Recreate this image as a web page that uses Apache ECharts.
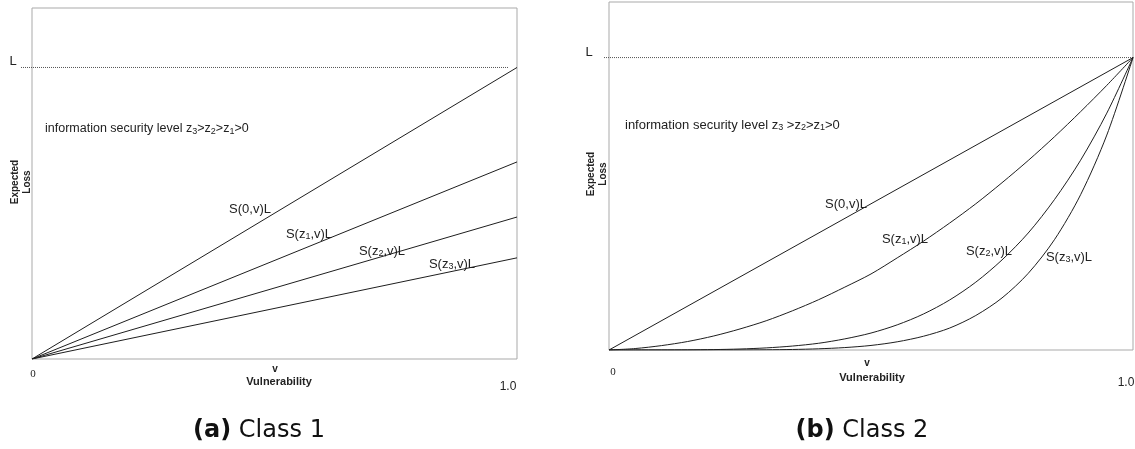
<!DOCTYPE html>
<html><head><meta charset="utf-8">
<script src="https://cdn.jsdelivr.net/npm/echarts@6/dist/echarts.min.js"></script>
<style>html,body{margin:0;padding:0;background:#fff}#c{width:1135px;height:449px}</style>
</head><body><div id="c"></div>
<script>
// ---- Class 1 (linear) : vulnerability v and expected loss as fraction of L
const class1V = [0, 1.0];
const class1_S0 = [0, 1.0];
const class1_Sz1 = [0, 0.676];
const class1_Sz2 = [0, 0.487];
const class1_Sz3 = [0, 0.347];
const class1_Lline_v = [-0.0226, 0.983];

// ---- Class 2 (convex)
const class2V_S0 = [0, 1.0];
const class2_S0 = [0, 1.0];
const class2V = [0, 0.05, 0.1, 0.15, 0.2, 0.25, 0.3, 0.35, 0.4, 0.45, 0.5, 0.55, 0.6, 0.65, 0.7, 0.75, 0.8, 0.85, 0.9, 0.95, 1.0];
const class2_Sz1 = [0, 0.005, 0.015, 0.029, 0.048, 0.072, 0.10, 0.134, 0.172, 0.215, 0.26, 0.315, 0.372, 0.434, 0.50, 0.572, 0.648, 0.729, 0.815, 0.905, 1.0];
const class2_Sz2 = [0, 0, 0.0001, 0.0004, 0.0014, 0.0034, 0.0072, 0.0135, 0.023, 0.038, 0.058, 0.086, 0.123, 0.171, 0.232, 0.308, 0.40, 0.514, 0.649, 0.81, 1.0];
const class2_Sz3 = [0, 0, 0, 0, 0.0001, 0.0002, 0.0007, 0.0018, 0.0041, 0.0083, 0.0156, 0.028, 0.047, 0.075, 0.118, 0.178, 0.262, 0.377, 0.531, 0.735, 1.0];
const class2_Lline_v = [-0.0095, 1.0];
const L_level = 1.0;

const xTickLabels = ['0', '1.0'];
const captions = [['(a)', 'Class 1'], ['(b)', 'Class 2']];

function pairs(xs, ys) { return xs.map((x, i) => [x, ys[i]]); }

const LINE = '#1e1e1e';
const SANS = '"Liberation Sans", Arial, sans-serif';

function curve(idx, xs, ys, smooth) {
  return {
    type: 'line', xAxisIndex: idx, yAxisIndex: idx, data: pairs(xs, ys),
    symbol: 'none', smooth: smooth ? 0.3 : false,
    lineStyle: { color: LINE, width: 1 }, silent: true, animation: false
  };
}
function lLine(idx, vs) {
  return {
    type: 'line', xAxisIndex: idx, yAxisIndex: idx,
    data: vs.map(v => [v, L_level]), symbol: 'none',
    lineStyle: { color: '#555', width: 1, type: [1, 1] }, silent: true, animation: false
  };
}

function rtext(x, y, text, size, align) {
  return {
    type: 'text', x: x, y: y, silent: true,
    style: {
      text: text, fill: '#222', align: align || 'center', verticalAlign: 'middle',
      rich: {
        t: { fontSize: size, fontFamily: SANS, fill: '#222' },
        s: { fontSize: Math.round(size * 0.68), fontFamily: SANS, fill: '#222', padding: [6, 0, 0, 0] }
      }
    }
  };
}
function ptext(x, y, text, font, align) {
  return { type: 'text', x: x, y: y, silent: true,
    style: { text: text, font: font, fill: '#222', align: align || 'center', verticalAlign: 'middle' } };
}
function ylab(x, y) {
  return { type: 'text', x: x, y: y, rotation: Math.PI / 2, silent: true,
    style: { text: 'Expected\nLoss', font: 'bold 10px ' + SANS, fill: '#222', align: 'center', verticalAlign: 'middle', lineHeight: 12 } };
}
function caption(x, y, c) {
  return { type: 'text', x: x, y: y, silent: true,
    style: { text: '{b|' + c[0] + '}{n| ' + c[1] + '}', align: 'center', verticalAlign: 'middle',
      rich: { b: { font: 'bold 24px "DejaVu Sans"', fill: '#111' }, n: { font: '24px "DejaVu Sans"', fill: '#111' } } } };
}

const chart = echarts.init(document.getElementById('c'), null, { renderer: 'canvas' });
const option = {
  backgroundColor: '#fff',
  animation: false,
  grid: [
    { left: 32, top: 8, width: 485, height: 351, show: true, borderColor: '#a9a9a9', borderWidth: 1, backgroundColor: 'transparent' },
    { left: 609, top: 2, width: 524, height: 348, show: true, borderColor: '#a9a9a9', borderWidth: 1, backgroundColor: 'transparent' },
    // helper grids carrying the dotted L reference lines (they reach left of the boxes)
    { left: 21, top: 8, width: 487, height: 351, show: false },
    { left: 604, top: 2, width: 529, height: 348, show: false }
  ],
  xAxis: [
    { type: 'value', gridIndex: 0, min: 0, max: 1, show: false },
    { type: 'value', gridIndex: 1, min: 0, max: 1, show: false },
    { type: 'value', gridIndex: 2, min: class1_Lline_v[0], max: class1_Lline_v[1], show: false },
    { type: 'value', gridIndex: 3, min: class2_Lline_v[0], max: class2_Lline_v[1], show: false }
  ],
  yAxis: [
    { type: 'value', gridIndex: 0, min: 0, max: 1.204, show: false },
    { type: 'value', gridIndex: 1, min: 0, max: 1.19, show: false },
    { type: 'value', gridIndex: 2, min: 0, max: 1.204, show: false },
    { type: 'value', gridIndex: 3, min: 0, max: 1.19, show: false }
  ],
  series: [
    lLine(2, class1_Lline_v),
    curve(0, class1V, class1_S0), curve(0, class1V, class1_Sz1),
    curve(0, class1V, class1_Sz2), curve(0, class1V, class1_Sz3),
    lLine(3, class2_Lline_v),
    curve(1, class2V_S0, class2_S0), curve(1, class2V, class2_Sz1, true),
    curve(1, class2V, class2_Sz2, true), curve(1, class2V, class2_Sz3, true)
  ],
  graphic: [
    // ---- panel (a)
    ptext(13, 61, 'L', '13px ' + SANS),
    rtext(45, 129, '{t|information security level z}{s|3}{t|>z}{s|2}{t|>z}{s|1}{t|>0}', 12.5, 'left'),
    rtext(250, 209, '{t|S(0,v)L}', 13),
    rtext(309, 234, '{t|S(z}{s|1}{t|,v)L}', 13),
    rtext(382, 251, '{t|S(z}{s|2}{t|,v)L}', 13),
    rtext(452, 264, '{t|S(z}{s|3}{t|,v)L}', 13),
    ylab(21, 182),
    ptext(33, 374, xTickLabels[0], '11px "Liberation Serif", serif'),
    ptext(508, 387, xTickLabels[1], '12px ' + SANS),
    ptext(275, 369, 'v', 'bold 10px ' + SANS),
    ptext(279, 382, 'Vulnerability', 'bold 11px ' + SANS),
    // ---- panel (b)
    ptext(589, 52, 'L', '13px ' + SANS),
    rtext(625, 125, '{t|information security level z}{s|3}{t| >z}{s|2}{t|>z}{s|1}{t|>0}', 13, 'left'),
    rtext(846, 204, '{t|S(0,v)L}', 13),
    rtext(905, 239, '{t|S(z}{s|1}{t|,v)L}', 13),
    rtext(989, 251, '{t|S(z}{s|2}{t|,v)L}', 13),
    rtext(1069, 257, '{t|S(z}{s|3}{t|,v)L}', 13),
    ylab(597, 174),
    ptext(613, 372, xTickLabels[0], '11px "Liberation Serif", serif'),
    ptext(1126, 383, xTickLabels[1], '12px ' + SANS),
    ptext(867, 363, 'v', 'bold 10px ' + SANS),
    ptext(872, 378, 'Vulnerability', 'bold 11px ' + SANS),
    // ---- captions
    caption(259, 431, captions[0]),
    caption(862, 431, captions[1])
  ]
};
chart.setOption(option);
</script>
</body></html>
